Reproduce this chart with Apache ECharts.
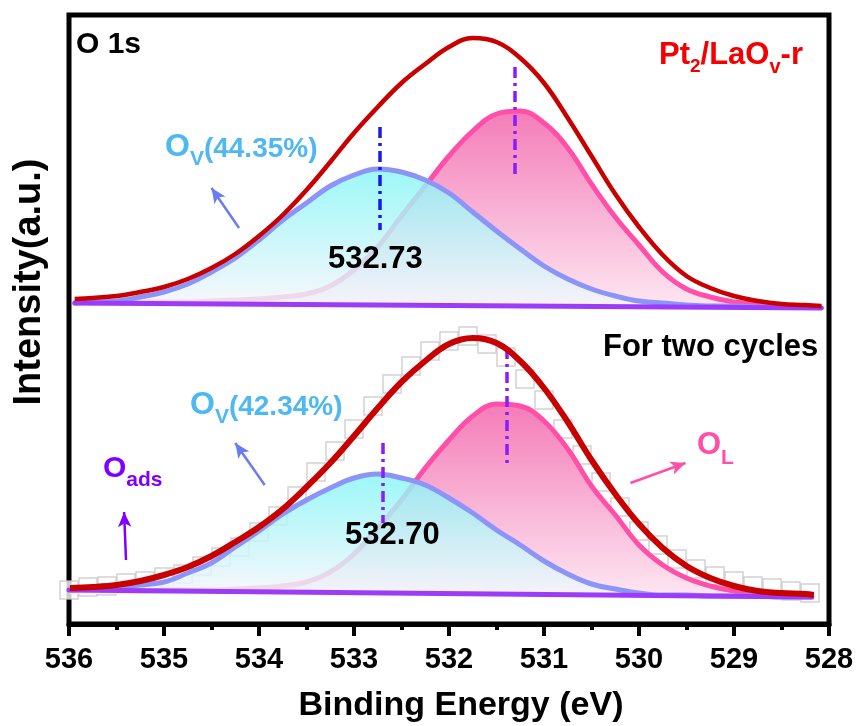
<!DOCTYPE html>
<html>
<head>
<meta charset="utf-8">
<script src="https://cdn.jsdelivr.net/npm/echarts@6/dist/echarts.min.js"></script>
<style>
  html, body { margin: 0; padding: 0; background: #fff; }
  #chart { width: 857px; height: 726px; }
</style>
</head>
<body>
<div id="chart"></div>
<script>
// binding energies (eV) sampled along the fitted curves
var topE = [535.94, 535.75, 535.5, 535.25, 535, 534.75, 534.5, 534.25, 534, 533.75, 533.5, 533.25, 533,
  532.75, 532.5, 532.25, 532, 531.75, 531.5, 531.25, 531, 530.75, 530.5, 530.25, 530, 529.75, 529.5,
  529.25, 529, 528.75, 528.5, 528.25, 528.08];
var botE = [535.99, 535.75, 535.5, 535.25, 535, 534.75, 534.5, 534.25, 534, 533.75, 533.5, 533.25, 533,
  532.75, 532.5, 532.25, 532, 531.75, 531.5, 531.25, 531, 530.75, 530.5, 530.25, 530, 529.75, 529.5,
  529.25, 529, 528.75, 528.5, 528.25, 528.16];

// Pt2/LaOv-r (upper spectrum, offset)
var topEnvelope = [325, 326, 328, 332, 337, 345, 356, 370, 388, 409, 434, 462, 491, 517, 541, 560, 577,
  586, 582, 566, 541, 506, 468, 430, 397, 369, 348, 336, 328, 323, 320, 319, 318];
var topOv = [321, 322, 323, 327, 332, 340, 352, 366, 384, 404, 421, 438, 449, 455, 452, 444, 431, 412,
  393, 375, 358, 345, 335, 328, 323, 321, 319, 318, 318, 317, 317, 317, 317];
var topOl = [321, 321, 321, 322, 322, 322, 323, 324, 325, 327, 330, 338, 354, 377, 408, 438, 468, 493,
  510, 513, 501, 476, 440, 407, 379, 352, 335, 327, 322, 320, 318, 317, 317];
var topBaseE = [535.94, 528.08];
var topBase = [321, 316];

// for two cycles (lower spectrum)
var botEnvelope = [36, 37, 39, 43, 49, 57, 68, 82, 97, 115, 137, 161, 188, 216, 242, 263, 280, 286, 281,
  263, 236, 202, 164, 130, 100, 76, 58, 46, 38, 33, 31, 30, 29];
var botOv = [34, 35, 36, 39, 42, 51, 61, 77, 93, 110, 124, 136, 146, 150, 146, 139, 126, 111, 94, 79,
  63, 50, 40, 35, 31, 29, 29, 28, 28, 28, 27, 27, 27];
var botOl = [34, 34, 33, 33, 34, 34, 34, 35, 36, 38, 42, 52, 70, 96, 124, 156, 184, 208, 220, 218, 203,
  175, 138, 109, 79, 59, 46, 38, 33, 31, 29, 29, 28];
var botBaseE = [536.0, 528.18];
var botBase = [34, 27];

// raw counts, lower spectrum
var rawE = [536.0, 535.8, 535.6, 535.4, 535.2, 535.0, 534.8, 534.6, 534.4, 534.2, 534.0, 533.8, 533.6,
  533.4, 533.2, 533.0, 532.8, 532.6, 532.4, 532.2, 532.0, 531.8, 531.6, 531.4, 531.2, 531.0, 530.8,
  530.6, 530.4, 530.2, 530.0, 529.8, 529.6, 529.4, 529.2, 529.0, 528.8, 528.6, 528.4, 528.2];
var rawI = [34, 37, 38, 41, 43, 47, 50, 58, 67, 77, 92, 108, 128, 152, 173, 195, 218, 240, 258, 273,
  283, 288, 280, 267, 245, 224, 195, 169, 142, 117, 93, 79, 65, 55, 48, 43, 38, 36, 33, 31];

var xTicks = [536, 535, 534, 533, 532, 531, 530, 529, 528];

var FONT = '"Liberation Sans", Arial, sans-serif';

function zip(xs, ys) {
  return xs.map(function (x, i) { return [x, ys[i]]; });
}

function grad(c0, c1) {
  return new echarts.graphic.LinearGradient(0, 0, 0, 1, [
    {offset: 0, color: c0}, {offset: 1, color: c1}
  ]);
}

var ctx = document.createElement('canvas').getContext('2d');
function textW(t, size) {
  ctx.font = 'bold ' + size + 'px ' + FONT;
  return ctx.measureText(t).width;
}

// text pieces with subscripts: [text, size, color, dy]
function label(x, y, parts) {
  var out = [];
  parts.forEach(function (p) {
    out.push({
      type: 'text', x: x, y: y + (p[3] || 0), z: 100,
      style: {
        text: p[0], fill: p[2], font: 'bold ' + p[1] + 'px ' + FONT,
        textAlign: 'left', textVerticalAlign: 'middle'
      }
    });
    x += textW(p[0], p[1]);
  });
  return out;
}

function vline(e, y0, y1, color) {
  return [
    {coord: [e, y0], symbol: 'none', lineStyle: {color: color, width: 3.5, type: [11, 5, 3, 5]}},
    {coord: [e, y1], symbol: 'none'}
  ];
}
function arrow(a, b, color) {
  return [
    {coord: a, symbol: 'none', lineStyle: {color: color, width: 2.5, type: 'solid'}},
    {coord: b, symbol: 'arrow', symbolSize: [10, 15]}
  ];
}

var ovBlue = '#8c94f7', olPink = '#ff4fa8', envRed = '#c80000', basePurple = '#9d3cf7';
var ovText = '#4db8f2', purple = '#8000ff';

var myChart = echarts.init(document.getElementById('chart'));

var graphics = []
  .concat(label(76, 45, [['O 1s', 30, '#000']]))
  .concat(label(659, 55, [['Pt', 31, '#f50000'], ['2', 19, '#f50000', 12], ['/LaO', 31, '#f50000'],
    ['v', 20, '#f50000', 12], ['-r', 31, '#f50000']]))
  .concat(label(165, 147, [['O', 32, ovText], ['V', 21, ovText, 12], ['(44.35%)', 28, ovText, 2]]))
  .concat(label(328, 259, [['532.73', 31, '#000']]))
  .concat(label(603, 347, [['For two cycles', 31, '#000']]))
  .concat(label(190, 405, [['O', 32, ovText], ['V', 21, ovText, 12], ['(42.34%)', 28, ovText, 2]]))
  .concat(label(103, 469, [['O', 30, purple], ['ads', 21, purple, 11]]))
  .concat(label(345, 535, [['532.70', 31, '#000']]))
  .concat(label(697, 445, [['O', 31, olPink], ['L', 21, olPink, 13]]));

graphics.push({
  type: 'text', x: 30, y: 282, rotation: Math.PI / 2, z: 100,
  style: {text: 'Intensity(a.u.)', fill: '#000', font: 'bold 38px ' + FONT,
    textAlign: 'center', textVerticalAlign: 'middle'}
});
graphics.push({
  type: 'text', x: 461, y: 706, z: 100,
  style: {text: 'Binding Energy (eV)', fill: '#000', font: 'bold 34px ' + FONT,
    textAlign: 'center', textVerticalAlign: 'middle'}
});

var option = {
  animation: false,
  backgroundColor: '#fff',
  grid: {left: 69, right: 28, top: 15, bottom: 102, show: true, borderColor: '#000', borderWidth: 5},
  xAxis: {
    type: 'value', min: 528, max: 536, interval: 1, inverse: true,
    axisLine: {lineStyle: {color: '#000', width: 5}},
    axisTick: {length: 12, lineStyle: {color: '#000', width: 4}},
    minorTick: {show: true, splitNumber: 2, length: 6, lineStyle: {color: '#000', width: 4}},
    splitLine: {show: false},
    axisLabel: {
      margin: 21, color: '#000', fontSize: 29, fontWeight: 'bold', fontFamily: FONT,
      formatter: function (v) { return xTicks.indexOf(v) >= 0 ? String(v) : ''; }
    }
  },
  yAxis: {type: 'value', min: 0, max: 609, show: false},
  graphic: graphics,
  series: [
    {
      name: 'raw', type: 'scatter', data: zip(rawE, rawI), z: 1,
      symbol: 'rect', symbolSize: 18,
      itemStyle: {color: '#fff', borderColor: '#c6c6c6', borderWidth: 1.5}
    },
    {
      name: 'OL top', type: 'line', data: zip(topE, topOl), z: 2, smooth: 0.4, showSymbol: false,
      lineStyle: {color: olPink, width: 5},
      areaStyle: {origin: 318, opacity: 1, color: grad('#f47cb8', '#fde6f1')}
    },
    {
      name: 'OL bottom', type: 'line', data: zip(botE, botOl), z: 2, smooth: 0.4, showSymbol: false,
      lineStyle: {color: olPink, width: 5},
      areaStyle: {origin: 30, opacity: 1, color: grad('#f47cb8', '#fde6f1')}
    },
    {
      name: 'OV top', type: 'line', data: zip(topE, topOv), z: 3, smooth: 0.4, showSymbol: false,
      lineStyle: {color: ovBlue, width: 5},
      areaStyle: {origin: 318, opacity: 0.82, color: grad('#86f6f6', '#f7f5fb')}
    },
    {
      name: 'OV bottom', type: 'line', data: zip(botE, botOv), z: 3, smooth: 0.4, showSymbol: false,
      lineStyle: {color: ovBlue, width: 5},
      areaStyle: {origin: 30, opacity: 0.82, color: grad('#86f6f6', '#f7f5fb')}
    },
    {
      name: 'base top', type: 'line', data: zip(topBaseE, topBase), z: 4, showSymbol: false,
      lineStyle: {color: basePurple, width: 5, cap: 'round'}
    },
    {
      name: 'base bottom', type: 'line', data: zip(botBaseE, botBase), z: 4, showSymbol: false,
      lineStyle: {color: basePurple, width: 5, cap: 'round'},
      markLine: {
        silent: true, animation: false, symbol: ['none', 'none'], label: {show: false},
        data: [
          vline(532.73, 497, 394, '#1a1ae6'),
          vline(531.31, 557, 446, '#8a1aff'),
          vline(532.70, 181, 101, '#8a1aff'),
          vline(531.39, 276, 161, '#8a1aff'),
          arrow([534.21, 396], [534.50, 436], '#6a7cf2'),
          arrow([533.94, 139], [534.25, 181], '#6a7cf2'),
          arrow([535.40, 64], [535.42, 112], purple),
          arrow([530.09, 141], [529.51, 161], olPink)
        ]
      }
    },
    {
      name: 'envelope top', type: 'line', data: zip(topE, topEnvelope), z: 5, smooth: 0.4, showSymbol: false,
      lineStyle: {color: envRed, width: 4.5}
    },
    {
      name: 'envelope bottom', type: 'line', data: zip(botE, botEnvelope), z: 5, smooth: 0.4, showSymbol: false,
      lineStyle: {color: envRed, width: 6}
    }
  ]
};

myChart.setOption(option);
</script>
</body>
</html>
